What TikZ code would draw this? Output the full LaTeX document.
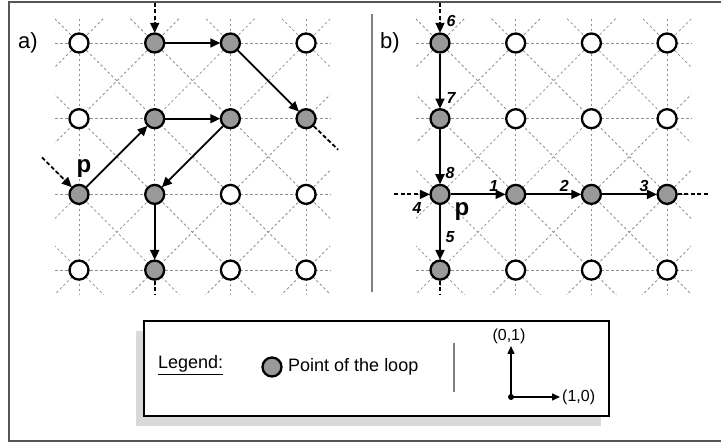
\documentclass[tikz,border=0pt]{standalone}
\usepackage{fontspec}
\setmainfont{Liberation Sans}
\usetikzlibrary{arrows.meta}
\definecolor{nodegray}{HTML}{999999}
\definecolor{gridgray}{HTML}{8F8F8F}
\definecolor{framegray}{HTML}{555555}
\definecolor{shadowgray}{HTML}{D9D9D9}
\begin{document}
\begin{tikzpicture}[x=1pt,y=-1pt,
  ptnode/.style={circle, draw=black, line width=2.3pt, minimum size=19pt, inner sep=0pt},
  loopnode/.style={ptnode, fill=nodegray},
  freenode/.style={ptnode, fill=white},
  gridline/.style={draw=gridgray, dash pattern=on 2.5pt off 2.5pt, line width=0.8pt},
  arr/.style={-{Triangle[length=10pt,width=9pt]}, line width=1.8pt, shorten >=-0.5pt},
  darr/.style={arr, dash pattern=on 4pt off 2.5pt},
  dline/.style={line width=1.8pt, dash pattern=on 4pt off 2.5pt},
  num/.style={font=\fontsize{16}{16}\selectfont\bfseries\itshape, inner sep=0pt},
  plabel/.style={font=\fontsize{24}{24}\selectfont\bfseries, inner sep=0pt},
  panellabel/.style={font=\fontsize{22}{22}\selectfont, inner sep=0pt},
  legtext/.style={font=\fontsize{18}{18}\selectfont, inner sep=0pt},
  axtext/.style={font=\fontsize{16}{16}\selectfont, inner sep=0pt}]
\useasboundingbox (0,0) rectangle (721,443);
\def\s{75.7}
% outer frame
\draw[framegray, line width=1.5pt] (9,2) rectangle (740,441);

% ---------- panel a ----------
\begin{scope}[shift={(79,43)}]
  \begin{scope}
    \clip (-24,-24) rectangle ({3*\s+24},{3*\s+24});
    \foreach \k in {-3,...,3} \draw[gridline] ({\k*\s-300},-300) -- ({\k*\s+300},300);
    \foreach \k in {0,...,6} \draw[gridline] ({\k*\s+300},-300) -- ({\k*\s-300},300);
  \end{scope}
  \foreach \k in {0,...,3} {
    \draw[gridline] (-24,{\k*\s}) -- ({3*\s+24},{\k*\s});
    \draw[gridline] ({\k*\s},-24) -- ({\k*\s},{3*\s+24});
  }
  \foreach \i/\j/\st in {0/0/freenode,1/0/loopnode,2/0/loopnode,3/0/freenode,
                         0/1/freenode,1/1/loopnode,2/1/loopnode,3/1/loopnode,
                         0/2/loopnode,1/2/loopnode,2/2/freenode,3/2/freenode,
                         0/3/freenode,1/3/loopnode,2/3/freenode,3/3/freenode}
    \node[\st] (a-\i-\j) at ({\i*\s},{\j*\s}) {};
  \coordinate (a-in-top) at (\s,-40);
  \coordinate (a-in-p) at (-37,{2*\s-37});
  \coordinate (a-out-r) at ({3*\s+32},{\s+31});
  \coordinate (a-out-b) at (\s,{3*\s+25});
  \draw[darr] (a-in-top) -- (a-1-0);
  \draw[arr] (a-1-0) -- (a-2-0);
  \draw[arr] (a-2-0) -- (a-3-1);
  \draw[dline] (a-3-1) -- (a-out-r);
  \draw[darr] (a-in-p) -- (a-0-2);
  \draw[arr] (a-0-2) -- (a-1-1);
  \draw[arr] (a-1-1) -- (a-2-1);
  \draw[arr] (a-2-1) -- (a-1-2);
  \draw[arr] (a-1-2) -- (a-1-3);
  \draw[dline] (a-1-3) -- (a-out-b);
  \node[plabel] (a-p) at (5,{2*\s-26}) {p};
\end{scope}
\node[panellabel] (lab-a) at (28,43) {a)};

% divider
\draw[draw=gray, line width=1.3pt] (372,14) -- (372,292);
\node[panellabel] (lab-b) at (390,43) {b)};

% ---------- panel b ----------
\begin{scope}[shift={(440,43)}]
  \begin{scope}
    \clip (-24,-24) rectangle ({3*\s+24},{3*\s+24});
    \foreach \k in {-3,...,3} \draw[gridline] ({\k*\s-300},-300) -- ({\k*\s+300},300);
    \foreach \k in {0,...,6} \draw[gridline] ({\k*\s+300},-300) -- ({\k*\s-300},300);
  \end{scope}
  \foreach \k in {0,...,3} {
    \draw[gridline] (-24,{\k*\s}) -- ({3*\s+24},{\k*\s});
    \draw[gridline] ({\k*\s},-24) -- ({\k*\s},{3*\s+24});
  }
  \foreach \i/\j/\st in {0/0/loopnode,1/0/freenode,2/0/freenode,3/0/freenode,
                         0/1/loopnode,1/1/freenode,2/1/freenode,3/1/freenode,
                         0/2/loopnode,1/2/loopnode,2/2/loopnode,3/2/loopnode,
                         0/3/loopnode,1/3/freenode,2/3/freenode,3/3/freenode}
    \node[\st] (b-\i-\j) at ({\i*\s},{\j*\s}) {};
  \coordinate (b-in-top) at (0,-40);
  \coordinate (b-in-l) at (-46,{2*\s});
  \coordinate (b-out-r) at ({3*\s+42},{2*\s});
  \coordinate (b-out-b) at (0,{3*\s+25});
  \draw[darr] (b-in-top) -- (b-0-0);
  \draw[arr] (b-0-0) -- (b-0-1);
  \draw[arr] (b-0-1) -- (b-0-2);
  \draw[darr] (b-in-l) -- (b-0-2);
  \draw[arr] (b-0-2) -- (b-1-2);
  \draw[arr] (b-1-2) -- (b-2-2);
  \draw[arr] (b-2-2) -- (b-3-2);
  \draw[dline] (b-3-2) -- (b-out-r);
  \draw[arr] (b-0-2) -- (b-0-3);
  \draw[dline] (b-0-3) -- (b-out-b);
  \node[num] (n6) at (11,-22) {6};
  \node[num] (n7) at (11,{\s-21}) {7};
  \node[num] (n8) at (10,{2*\s-21}) {8};
  \node[num] (n4) at (-23,{2*\s+14}) {4};
  \node[num] (n1) at ({\s-22},{2*\s-8}) {1};
  \node[num] (n2) at ({2*\s-27},{2*\s-8}) {2};
  \node[num] (n3) at ({3*\s-23},{2*\s-8}) {3};
  \node[num] (n5) at (10,{3*\s-33}) {5};
  \node[plabel] (b-p) at (22,{2*\s+17}) {p};
\end{scope}

% ---------- legend ----------
\fill[shadowgray] (136,331) rectangle (601,426);
\draw[fill=white, line width=1.5pt] (144,321) rectangle (609,416);
\node[legtext, anchor=west] (leg-title) at (158,365) {\underline{Legend:}};
\node[loopnode] (leg-pt) at (272,367) {};
\node[legtext, anchor=west] (leg-text) at (288,367) {Point of the loop};
\draw[draw=gray, line width=2.5pt] (454,343) -- (454,392);
\fill (511,397) circle (3pt);
\coordinate (ax-o) at (511,397);
\coordinate (ax-y) at (511,346);
\coordinate (ax-x) at (560,397);
\draw[-{Triangle[length=8pt,width=7pt]}, line width=1.5pt] (ax-o) -- (ax-y);
\draw[-{Triangle[length=8pt,width=7pt]}, line width=1.5pt] (ax-o) -- (ax-x);
\node[axtext, anchor=south] (ax-ylab) at (509,344) {(0,1)};
\node[axtext, anchor=west] (ax-xlab) at (562,397) {(1,0)};
\end{tikzpicture}
\end{document}
